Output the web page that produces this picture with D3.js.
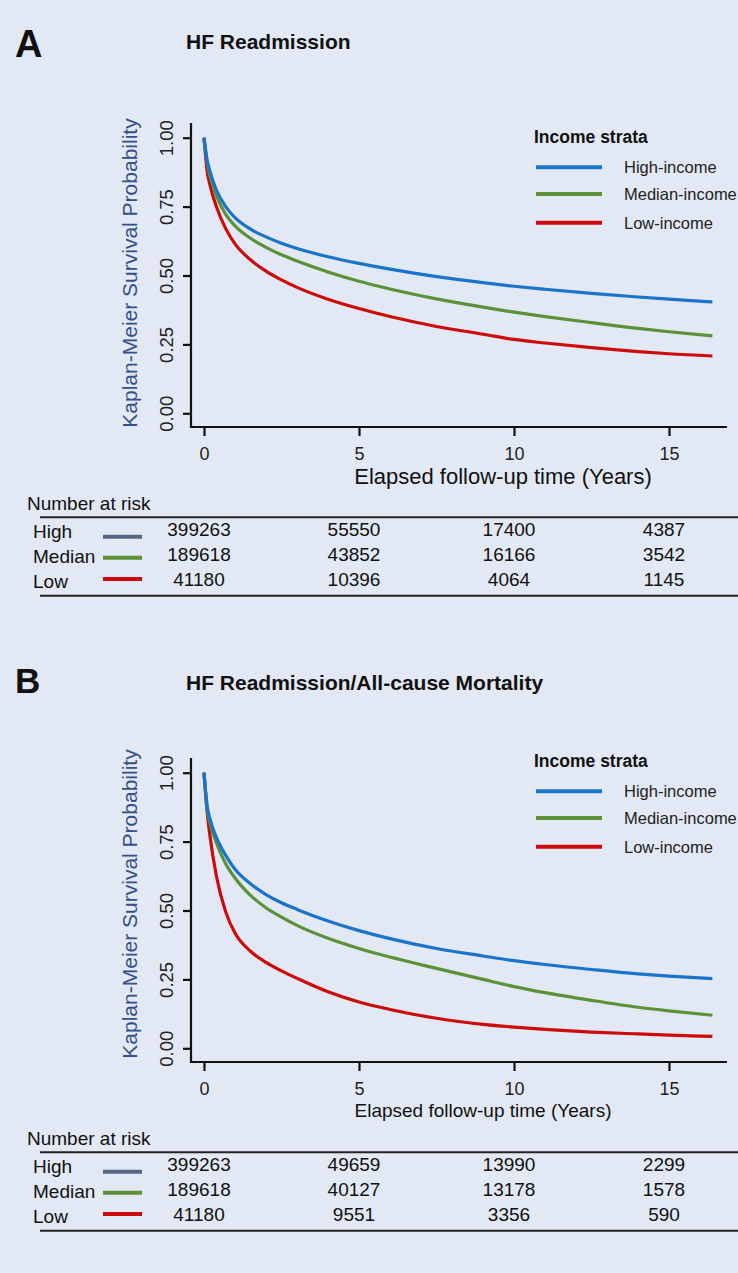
<!DOCTYPE html>
<html>
<head>
<meta charset="utf-8">
<script src="https://cdn.jsdelivr.net/npm/d3@7"></script>
<style>
  html, body { margin: 0; padding: 0; background: #e2e8f4; }
  svg { display: block; }
  text { font-family: "Liberation Sans", Arial, sans-serif; }
</style>
</head>
<body>
<svg id="chart" width="738" height="1273"></svg>
<script>
// ---------- data ----------
const times = [0, 0.1, 0.2, 0.4, 0.7, 1, 1.5, 2, 2.5, 3, 4, 5, 6, 7.5, 9, 10, 11, 12.5, 14, 15, 16.4];

// Panel A: HF Readmission
const highA = [1.0, 0.92, 0.875, 0.81, 0.75, 0.71, 0.668, 0.64, 0.617, 0.598, 0.568, 0.544, 0.523, 0.496, 0.474, 0.461, 0.45, 0.435, 0.422, 0.414, 0.404];
const medA  = [1.0, 0.91, 0.86, 0.79, 0.722, 0.68, 0.635, 0.602, 0.575, 0.553, 0.513, 0.479, 0.451, 0.415, 0.385, 0.367, 0.351, 0.329, 0.308, 0.296, 0.281];
const lowA  = [1.0, 0.88, 0.825, 0.75, 0.67, 0.615, 0.557, 0.516, 0.484, 0.457, 0.414, 0.38, 0.351, 0.315, 0.287, 0.268, 0.255, 0.238, 0.224, 0.216, 0.208];

// Panel B: HF Readmission / All-cause Mortality
const highB = [1.0, 0.88, 0.83, 0.765, 0.7, 0.65, 0.597, 0.558, 0.528, 0.504, 0.462, 0.427, 0.398, 0.362, 0.335, 0.318, 0.304, 0.286, 0.27, 0.262, 0.253];
const medB  = [1.0, 0.87, 0.815, 0.745, 0.67, 0.618, 0.555, 0.51, 0.476, 0.446, 0.399, 0.362, 0.331, 0.29, 0.25, 0.224, 0.202, 0.174, 0.149, 0.136, 0.12];
const lowB  = [1.0, 0.86, 0.765, 0.625, 0.495, 0.418, 0.352, 0.312, 0.281, 0.254, 0.205, 0.168, 0.141, 0.109, 0.087, 0.077, 0.069, 0.059, 0.052, 0.048, 0.043];

const strata = ["High-income", "Median-income", "Low-income"];
const riskRows = ["High", "Median", "Low"];
const riskTimes = [0, 5, 10, 15];
const riskA = [[399263, 55550, 17400, 4387], [189618, 43852, 16166, 3542], [41180, 10396, 4064, 1145]];
const riskB = [[399263, 49659, 13990, 2299], [189618, 40127, 13178, 1578], [41180, 9551, 3356, 590]];

const xTicks = [0, 5, 10, 15];
const yTicks = [0, 0.25, 0.5, 0.75, 1];

const panelLetters = ["A", "B"];
const panelTitles = ["HF Readmission", "HF Readmission/All-cause Mortality"];
const xTitle = "Elapsed follow-up time (Years)";
const yTitle = "Kaplan-Meier Survival Probability";
const legendTitle = "Income strata";
const riskTitle = "Number at risk";

// ---------- styles ----------
const curveColors = ["#1a74cc", "#5b9137", "#cc0a0a"];
const swatchColors = ["#566784", "#5b9137", "#cc0a0a"];
const ink = "#111";

const svg = d3.select("#chart");
svg.append("rect").attr("width", 738).attr("height", 1273).attr("fill", "#e2e8f4");

function drawPanel(opt) {
  const dy = opt.dy;
  const g = svg.append("g");
  const x = d3.scaleLinear().domain([0, 15]).range([204, 669]);
  const y = d3.scaleLinear().domain([0, 1]).range([413.3 + dy, 137.7 + dy]);

  // letter + title
  g.append("text").attr("x", 15).attr("y", opt.letterY)
    .attr("font-size", opt.letterSize).attr("font-weight", "bold").attr("fill", ink).text(opt.letter);
  g.append("text").attr("x", 186).attr("y", opt.titleY)
    .attr("font-size", 21).attr("font-weight", "bold").attr("fill", ink).text(opt.title);

  // axis lines
  g.append("line").attr("x1", 191).attr("x2", 191).attr("y1", 123 + dy).attr("y2", 428 + dy)
    .attr("stroke", ink).attr("stroke-width", 2.2);
  g.append("line").attr("x1", 190).attr("x2", 727).attr("y1", 427 + dy).attr("y2", 427 + dy)
    .attr("stroke", ink).attr("stroke-width", 2.2);

  // y axis ticks
  const ya = g.append("g").attr("transform", `translate(191,0)`)
    .call(d3.axisLeft(y).tickValues(yTicks).tickFormat(d3.format(".2f")).tickSize(8));
  ya.select(".domain").remove();
  ya.selectAll(".tick line").attr("stroke", ink).attr("stroke-width", 2.2);
  ya.selectAll(".tick text")
    .attr("x", null).attr("dy", null).attr("y", null)
    .attr("transform", "translate(-18,0) rotate(-90)")
    .attr("text-anchor", "middle")
    .attr("font-size", 18.5).attr("fill", "#222")
    .attr("font-family", "'Liberation Sans', Arial, sans-serif");

  // x axis ticks
  const xa = g.append("g").attr("transform", `translate(0,${427 + dy})`)
    .call(d3.axisBottom(x).tickValues(xTicks).tickSize(9));
  xa.select(".domain").remove();
  xa.selectAll(".tick line").attr("stroke", ink).attr("stroke-width", 2.2);
  xa.selectAll(".tick text")
    .attr("y", 32.5).attr("dy", null)
    .attr("font-size", 18).attr("fill", "#222")
    .attr("font-family", "'Liberation Sans', Arial, sans-serif");

  // axis titles
  g.append("text").attr("transform", `translate(137,${opt.yTitleC}) rotate(-90)`)
    .attr("text-anchor", "middle").attr("font-size", 21).attr("fill", "#33508a").text(yTitle);
  g.append("text").attr("x", opt.xTitleC).attr("y", opt.xTitleY)
    .attr("text-anchor", "middle").attr("font-size", opt.xTitleSize).attr("fill", ink).text(xTitle);

  // curves
  const line = d3.line().x((d, i) => x(times[i])).y(d => y(d)).curve(d3.curveMonotoneX);
  const series = opt.series;
  [2, 1, 0].forEach(k => {
    g.append("path").datum(series[k]).attr("d", line)
      .attr("fill", "none").attr("stroke", curveColors[k]).attr("stroke-width", 3.2)
      .attr("stroke-linejoin", "round");
  });

  // legend
  const ly = opt.legendY;
  g.append("text").attr("x", 534).attr("y", ly).attr("font-size", 17.5)
    .attr("font-weight", "bold").attr("fill", ink).text(legendTitle);
  const lineYs = [24.6, 51.3, 80];
  strata.forEach((s, k) => {
    g.append("line").attr("x1", 536).attr("x2", 602)
      .attr("y1", ly + lineYs[k]).attr("y2", ly + lineYs[k])
      .attr("stroke", curveColors[k]).attr("stroke-width", 4);
    g.append("text").attr("x", 624).attr("y", ly + lineYs[k] + 6)
      .attr("font-size", 16.5).attr("fill", "#222").text(s);
  });

  // risk table
  g.append("text").attr("x", 27).attr("y", 510 + dy).attr("font-size", 19).attr("fill", ink).text(riskTitle);
  g.append("line").attr("x1", 40).attr("x2", 738).attr("y1", 517.3 + dy).attr("y2", 517.3 + dy)
    .attr("stroke", "#222").attr("stroke-width", 2);
  g.append("line").attr("x1", 40).attr("x2", 738).attr("y1", 595.7 + dy).attr("y2", 595.7 + dy)
    .attr("stroke", "#222").attr("stroke-width", 2);
  const labelY = [538, 562.5, 588];
  const numY = [535.5, 560.8, 586];
  const swY = [536.7, 557.7, 579];
  riskRows.forEach((r, k) => {
    g.append("text").attr("x", 33).attr("y", labelY[k] + dy).attr("font-size", 19).attr("fill", ink).text(r);
    g.append("line").attr("x1", 103).attr("x2", 142).attr("y1", swY[k] + dy).attr("y2", swY[k] + dy)
      .attr("stroke", swatchColors[k]).attr("stroke-width", 4);
    opt.risk[k].forEach((v, j) => {
      g.append("text").attr("x", x(riskTimes[j]) - 5).attr("y", numY[k] + dy)
        .attr("text-anchor", "middle").attr("font-size", 19).attr("fill", ink).text(v);
    });
  });
}

drawPanel({
  dy: 0, letter: panelLetters[0], letterY: 57, letterSize: 38, title: panelTitles[0], titleY: 49,
  yTitleC: 273, xTitleC: 503, xTitleY: 484, xTitleSize: 22, legendY: 142.7,
  series: [highA, medA, lowA], risk: riskA
});
drawPanel({
  dy: 635, letter: panelLetters[1], letterY: 693, letterSize: 35, title: panelTitles[1], titleY: 690,
  yTitleC: 904, xTitleC: 483, xTitleY: 1117, xTitleSize: 19, legendY: 766.7,
  series: [highB, medB, lowB], risk: riskB
});
</script>
</body>
</html>
